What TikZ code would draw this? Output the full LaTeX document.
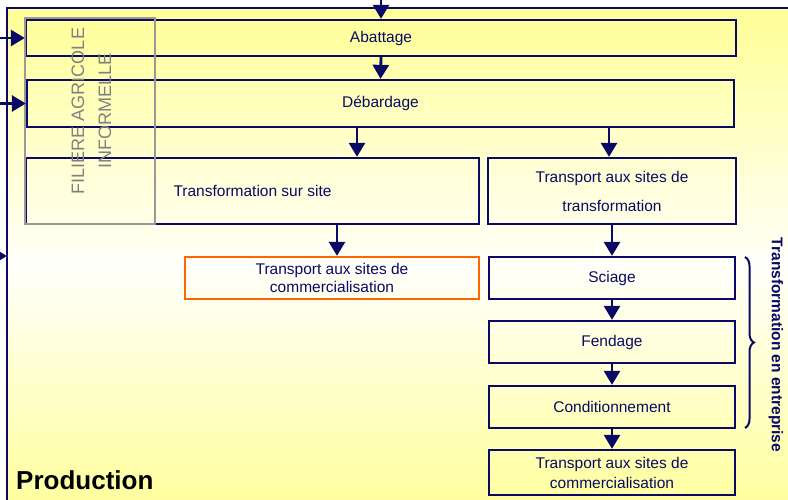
\documentclass[tikz,border=0pt]{standalone}
\usepackage{fontspec}
\setmainfont{Liberation Sans}
\usetikzlibrary{arrows.meta,decorations.pathreplacing}
\definecolor{navy}{HTML}{0A0A66}
\definecolor{bgyel}{HTML}{FFFF99}
\definecolor{bgwhite}{HTML}{FFFFFA}
\definecolor{orng}{HTML}{FF6600}
\definecolor{grayline}{HTML}{999999}
\definecolor{graytext}{HTML}{808080}
\begin{document}
\begin{tikzpicture}[x=1pt,y=-1pt,
  boxstyle/.style={draw=navy,line width=2.3pt,inner sep=0pt,text=navy,align=center,
    font=\fontsize{15.5}{19}\selectfont},
  arr/.style={draw=navy,line width=2.8pt,-{Triangle[width=16pt,length=14pt]}},
]
\useasboundingbox (0,0) rectangle (788,500);
\begin{scope}
\clip (0,0) rectangle (788,500);
% background gradient: yellow - white - yellow
\foreach \i in {0,...,103}{
  \pgfmathsetmacro{\yy}{8+5*\i}
  \pgfmathsetmacro{\pp}{min(100,abs(\yy+2.5-266)/250*100)}
  \fill[bgyel!\pp!bgwhite] (7,\yy) rectangle (820,\yy+5.6);
}
\draw[navy,line width=2.4pt] (7,530) -- (7,8) -- (820,8);

% boxes
\node[boxstyle,minimum width=710pt,minimum height=36pt] (ab) at (381,38) {Abattage};
\node[boxstyle,minimum width=707pt,minimum height=47pt] (deb) at (380.5,103.5) {Débardage};
\node[boxstyle,minimum width=453pt,minimum height=66pt] (tss) at (252.5,191) {Transformation sur site};
\node[boxstyle,minimum width=248pt,minimum height=66pt,font=\fontsize{15.5}{29}\selectfont] (tst) at (612,191) {Transport aux sites de\\transformation};
\node[boxstyle,draw=orng,minimum width=294pt,minimum height=42pt,font=\fontsize{15.5}{18}\selectfont] (tcom1) at (332,278) {Transport aux sites de\\commercialisation};
\node[boxstyle,minimum width=246pt,minimum height=42pt] (sci) at (612,278) {Sciage};
\node[boxstyle,minimum width=246pt,minimum height=42pt] (fen) at (612,342) {Fendage};
\node[boxstyle,minimum width=246pt,minimum height=42pt] (cond) at (612,407) {Conditionnement};
\node[boxstyle,minimum width=246pt,minimum height=45pt,font=\fontsize{15.5}{20}\selectfont] (tcom2) at (612,472.5) {Transport aux sites de\\commercialisation};

% gray informal box
\node[draw=grayline,line width=2.4pt,minimum width=130pt,minimum height=206pt,inner sep=0pt] (fil) at (90,121) {};
\node[text=graytext,rotate=90,align=center,font=\fontsize{18}{27}\selectfont] (filt) at (91.5,111) {FILIERE AGRICOLE\\INFORMELLE};

% free ends
\coordinate (topin) at (381,-2);
\coordinate (lin1) at (-2,38);
\coordinate (lin2) at (-2,103.5);
\coordinate (lin3) at (-30,256);
\coordinate (mainL) at (7,256);
\coordinate (c1) at (357,0);
\coordinate (c2) at (609,0);
\coordinate (c3) at (337,0);

% arrows
\draw[arr] (topin) -- (ab.north);
\draw[arr] (lin1) -- (ab.west);
\draw[arr] (lin2) -- (deb.west);
\draw[arr] (lin3) -- (mainL);
\draw[arr] (ab.south) -- (deb.north);
\draw[arr] (deb.south -| c1) -- (tss.north -| c1);
\draw[arr] (deb.south -| c2) -- (tst.north -| c2);
\draw[arr] (tss.south -| c3) -- (tcom1.north -| c3);
\draw[arr] (tst.south) -- (sci.north);
\draw[arr] (sci.south) -- (fen.north);
\draw[arr] (fen.south) -- (cond.north);
\draw[arr] (cond.south) -- (tcom2.north);

% brace
\coordinate (br1) at (745,257);
\coordinate (br2) at (745,428);
\draw[navy,line width=2pt,decorate,decoration={brace,amplitude=9pt}] (br1) -- (br2);
\node[text=navy,rotate=-90,font=\fontsize{15.5}{19}\selectfont\bfseries] (te) at (776,345) {Transformation en entreprise};

\node[anchor=west,font=\fontsize{26}{30}\selectfont\bfseries,inner sep=0pt] (prod) at (16,480) {Production};
\end{scope}
\end{tikzpicture}
\end{document}
